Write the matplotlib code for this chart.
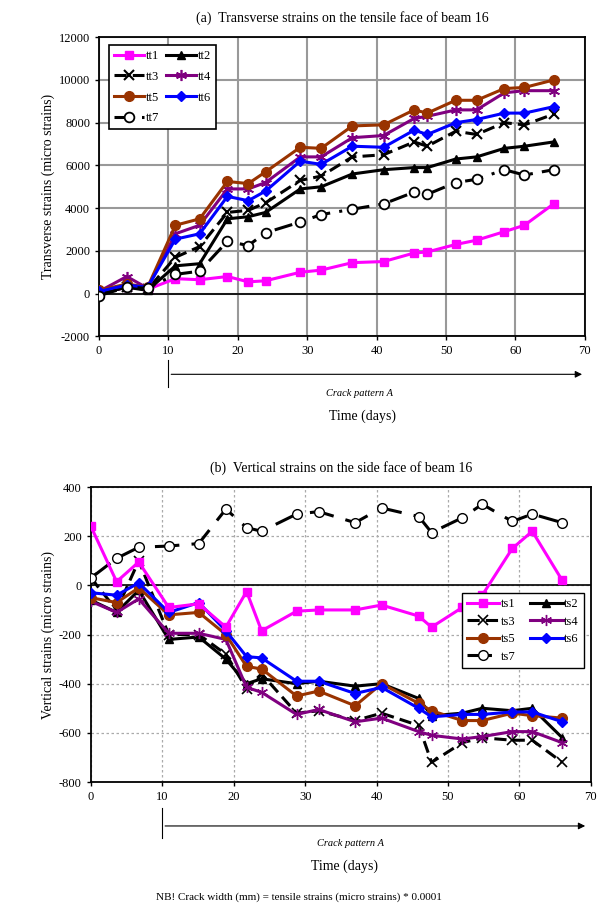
import numpy as np
import matplotlib
matplotlib.use('Agg')
from matplotlib import pyplot as plt

plt.rcParams['font.family'] = ['Liberation Serif', 'DejaVu Serif']
plt.rcParams['font.size'] = 9
plt.rcParams['axes.unicode_minus'] = False

# (a) transverse strains, tensile face
days_a = [0, 4, 7, 11, 14.5, 18.5, 21.5, 24, 29, 32, 36.5, 41, 45.4, 47.3, 51.4, 54.4, 58.4, 61.3, 65.5]
tt1 = [0, 300, 200, 700, 650, 800, 550, 600, 1000, 1100, 1450, 1500, 1900, 1950, 2300, 2500, 2900, 3200, 4200]
tt2 = [0, 300, 150, 1300, 1400, 3500, 3600, 3800, 4900, 5000, 5600, 5800, 5900, 5900, 6300, 6400, 6800, 6900, 7100]
tt3 = [0, 300, 200, 1700, 2200, 3800, 3900, 4250, 5300, 5500, 6400, 6500, 7100, 6900, 7600, 7450, 8000, 7900, 8400]
tt4 = [100, 800, 250, 2800, 3200, 4900, 4900, 5200, 6400, 6400, 7300, 7400, 8200, 8300, 8600, 8600, 9400, 9500, 9500]
tt5 = [150, 450, 300, 3200, 3500, 5250, 5150, 5700, 6850, 6800, 7850, 7900, 8600, 8450, 9050, 9050, 9600, 9650, 10000]
tt6 = [100, 400, 300, 2550, 2800, 4550, 4350, 4800, 6200, 6050, 6900, 6850, 7650, 7450, 8000, 8150, 8450, 8450, 8750]
tt7 = [-100, 300, 250, 900, 1050, 2450, 2250, 2850, 3350, 3700, 3950, 4200, 4750, 4650, 5200, 5350, 5800, 5550, 5800]

# (b) vertical strains, side face
days_b = [0, 3.6, 6.7, 10.9, 15.1, 18.9, 21.8, 23.9, 28.8, 31.9, 37, 40.7, 45.9, 47.7, 52, 54.8, 59, 61.8, 66]
ts1 = [240, 15, 95, -90, -75, -170, -25, -185, -105, -100, -100, -80, -125, -170, -90, -40, 150, 220, 20]
ts2 = [-60, -110, -20, -220, -210, -300, -400, -380, -400, -390, -410, -400, -460, -530, -520, -500, -510, -500, -620]
ts3 = [30, -100, 100, -200, -200, -280, -420, -360, -520, -510, -550, -520, -570, -720, -640, -620, -630, -630, -720]
ts4 = [-65, -110, -55, -195, -195, -220, -415, -435, -525, -505, -555, -540, -595, -610, -625, -615, -595, -595, -640]
ts5 = [-50, -70, -10, -120, -110, -200, -330, -340, -450, -430, -490, -400, -480, -510, -550, -550, -520, -530, -540]
ts6 = [-30, -40, 10, -110, -70, -185, -290, -295, -390, -390, -440, -415, -500, -535, -525, -525, -515, -515, -555]
ts7 = [30, 110, 155, 160, 170, 310, 235, 220, 290, 300, 255, 315, 280, 215, 275, 330, 260, 290, 255]

magenta = '#FF00FF'
brown = '#993300'
purple = '#800080'
blue = '#0000FF'
star = (6, 2, 0)

# row-wise legend order for 2 columns (matplotlib fills columns first)
leg_order = [0, 2, 4, 6, 1, 3, 5]

fig = plt.figure(figsize=(5.98, 9.09), dpi=100)

# ---------- (a) ----------
ax1 = fig.add_axes([0.1656, 0.630, 0.8124, 0.329])
lw = 2.2
ax1.plot(days_a, tt1, color=magenta, lw=lw, marker='s', ms=6, label='tt1', zorder=3)
ax1.plot(days_a, tt2, color='black', lw=lw, marker='^', ms=6, label='tt2', zorder=3)
ax1.plot(days_a, tt3, color='black', lw=lw, ls=(0, (4, 2)), marker='x', ms=7, mew=1.5, label='tt3', zorder=3)
ax1.plot(days_a, tt4, color=purple, lw=lw, marker=star, ms=8, mew=1.2, label='tt4', zorder=3)
ax1.plot(days_a, tt5, color=brown, lw=lw, marker='o', ms=7, label='tt5', zorder=3)
ax1.plot(days_a, tt6, color=blue, lw=lw, marker='D', ms=5, label='tt6', zorder=3)
ax1.plot(days_a, tt7, color='black', lw=lw, ls=(0, (6, 3, 1, 3)), marker='o', ms=7,
         mfc='white', mec='black', mew=1.3, label='tt7', zorder=3)

ax1.set_xlim(0, 70)
ax1.set_ylim(-2000, 12000)
ax1.set_xticks(np.arange(0, 71, 10))
ax1.set_yticks(np.arange(-2000, 12001, 2000))
ax1.grid(True, color='#999999', lw=1.5)
ax1.set_axisbelow(True)
ax1.axhline(0, color='black', lw=1.2, zorder=2)
for s in ax1.spines.values():
    s.set_linewidth(1.3)
ax1.tick_params(length=3, width=1, labelsize=9)
ax1.set_ylabel('Transverse strains (micro strains)', fontsize=10, labelpad=3)
ax1.set_title('(a)  Transverse strains on the tensile face of beam 16', fontsize=10, pad=11)
h, l = ax1.get_legend_handles_labels()
leg1 = ax1.legend([h[i] for i in leg_order], [l[i] for i in leg_order],
                  loc='upper left', bbox_to_anchor=(0.008, 0.995), ncol=2, fontsize=9,
                  fancybox=False, edgecolor='black', framealpha=1, handlelength=2.4,
                  columnspacing=0.6, handletextpad=0.1, borderpad=0.4, labelspacing=0.7)
leg1.get_frame().set_linewidth(1.2)

ax1.annotate('', xy=(70, -0.127), xycoords=('data', 'axes fraction'),
             xytext=(10, -0.127), textcoords=('data', 'axes fraction'),
             arrowprops=dict(arrowstyle='-|>', color='black', lw=0.8, mutation_scale=10),
             annotation_clip=False)
ax1.plot([10, 10], [-0.08, -0.17], color='black', lw=0.8, clip_on=False,
         transform=ax1.get_xaxis_transform())
ax1.text(37.5, -0.19, 'Crack pattern A', transform=ax1.get_xaxis_transform(),
         ha='center', va='center', fontsize=7.5, style='italic')
ax1.text(38, -0.268, 'Time (days)', transform=ax1.get_xaxis_transform(),
         ha='center', va='center', fontsize=10)

# ---------- (b) ----------
ax2 = fig.add_axes([0.152, 0.1397, 0.836, 0.3245])
ax2.plot(days_b, ts1, color=magenta, lw=lw, marker='s', ms=6, label='ts1', zorder=4)
ax2.plot(days_b, ts2, color='black', lw=lw, marker='^', ms=6, label='ts2', zorder=3)
ax2.plot(days_b, ts3, color='black', lw=lw, ls=(0, (4, 2)), marker='x', ms=7, mew=1.2, label='ts3', zorder=3)
ax2.plot(days_b, ts4, color=purple, lw=lw, marker=star, ms=8, mew=1.0, label='ts4', zorder=3)
ax2.plot(days_b, ts5, color=brown, lw=lw, marker='o', ms=7, label='ts5', zorder=3)
ax2.plot(days_b, ts6, color=blue, lw=lw, marker='D', ms=5, label='ts6', zorder=3)
ax2.plot(days_b, ts7, color='black', lw=lw, ls=(0, (8, 4)), marker='o', ms=7,
         mfc='white', mec='black', mew=1.0, label='ts7', zorder=3)

ax2.set_xlim(0, 70)
ax2.set_ylim(-800, 400)
ax2.set_xticks(np.arange(0, 71, 10))
ax2.set_yticks(np.arange(-800, 401, 200))
ax2.grid(True, color='#aaaaaa', lw=0.9, ls=(0, (2, 2)))
ax2.set_axisbelow(True)
ax2.axhline(0, color='black', lw=1.2, zorder=2)
for s in ax2.spines.values():
    s.set_linewidth(1.3)
ax2.tick_params(length=3, width=1, labelsize=9)
ax2.set_ylabel('Vertical strains (micro strains)', fontsize=10, labelpad=3)
ax2.set_title('(b)  Vertical strains on the side face of beam 16', fontsize=10, pad=11)
h, l = ax2.get_legend_handles_labels()
leg2 = ax2.legend([h[i] for i in leg_order], [l[i] for i in leg_order],
                  loc='upper right', bbox_to_anchor=(0.998, 0.662), ncol=2, fontsize=9,
                  fancybox=False, edgecolor='black', framealpha=1, handlelength=2.6,
                  columnspacing=1.2, handletextpad=0.1, borderpad=0.4, labelspacing=0.45)
leg2.get_frame().set_linewidth(1.0)

ax2.annotate('', xy=(69.6, -0.149), xycoords=('data', 'axes fraction'),
             xytext=(10, -0.149), textcoords=('data', 'axes fraction'),
             arrowprops=dict(arrowstyle='-|>', color='black', lw=0.8, mutation_scale=10),
             annotation_clip=False)
ax2.plot([10, 10], [-0.088, -0.19], color='black', lw=0.8, clip_on=False,
         transform=ax2.get_xaxis_transform())
ax2.text(36.3, -0.207, 'Crack pattern A', transform=ax2.get_xaxis_transform(),
         ha='center', va='center', fontsize=7.5, style='italic')
ax2.text(35.5, -0.285, 'Time (days)', transform=ax2.get_xaxis_transform(),
         ha='center', va='center', fontsize=10)

fig.text(0.5, 1 - 897 / 909, 'NB! Crack width (mm) = tensile strains (micro strains) * 0.0001',
         ha='center', va='center', fontsize=8)

fig.savefig('out.png', dpi=100)
